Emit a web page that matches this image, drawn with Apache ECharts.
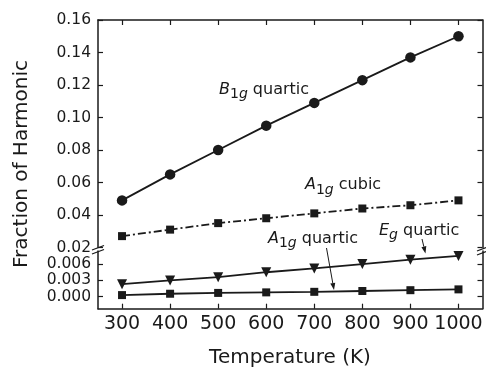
<!DOCTYPE html>
<html><head><meta charset="utf-8">
<script src="https://cdn.jsdelivr.net/npm/echarts@6/dist/echarts.min.js"></script>
<style>html,body{margin:0;padding:0;background:#fff}#c{width:486px;height:373px}</style>
</head><body><div id="c"></div>
<script>
const temperatures = [300, 400, 500, 600, 700, 800, 900, 1000];
const b1gQuartic = [0.049, 0.065, 0.080, 0.095, 0.109, 0.123, 0.137, 0.150];
const a1gCubic = [0.027, 0.031, 0.035, 0.038, 0.041, 0.044, 0.046, 0.049];
const egQuartic = [0.0023, 0.0030, 0.0036, 0.0045, 0.0052, 0.0060, 0.0068, 0.0075];
const a1gQuartic = [0.0003, 0.00055, 0.0007, 0.0008, 0.0009, 0.00105, 0.0012, 0.00135];
const lowerTicks = [0, 0.003, 0.006];

const FONT = 'DejaVu Sans';
const INK = '#1a1a1a';
const pairs = arr => temperatures.map((t, i) => [t, arr[i]]);

const chart = echarts.init(document.getElementById('c'), null, {renderer: 'canvas'});

const xBase = (grid, pos, showLabel) => ({
  type: 'value', gridIndex: grid, position: pos, min: 250, max: 1050,
  axisLine: {show: true, onZero: false, lineStyle: {color: INK, width: 1.5}},
  axisTick: {show: true, inside: true, length: 5, customValues: temperatures, lineStyle: {color: INK, width: 1.2}},
  axisLabel: {show: showLabel, customValues: temperatures, margin: 6, fontFamily: FONT, fontSize: 19, color: INK, formatter: v => String(v)},
  splitLine: {show: false}
});
const yUpper = (pos, showLabel) => ({
  type: 'value', gridIndex: 0, position: pos, min: 0.02, max: 0.16, interval: 0.02,
  axisLine: {show: true, onZero: false, lineStyle: {color: INK, width: 1.5}},
  axisTick: {show: true, inside: true, length: 5, lineStyle: {color: INK, width: 1.2}},
  axisLabel: {show: showLabel, margin: 7, fontFamily: FONT, fontSize: 15.5, color: INK, formatter: v => v.toFixed(2)},
  splitLine: {show: false}
});
const yLower = (pos, showLabel) => ({
  type: 'value', gridIndex: 1, position: pos, min: -0.0022, max: 0.0084,
  axisLine: {show: true, onZero: false, lineStyle: {color: INK, width: 1.5}},
  axisTick: {show: true, inside: true, length: 5, customValues: lowerTicks, lineStyle: {color: INK, width: 1.2}},
  axisLabel: {show: showLabel, customValues: lowerTicks, margin: 7, fontFamily: FONT, fontSize: 15.5, color: INK, formatter: v => v.toFixed(3)},
  splitLine: {show: false}
});

const rich = {
  i: {fontFamily: FONT, fontStyle: 'italic', fontSize: 16, lineHeight: 24, color: INK},
  s: {fontFamily: FONT, fontSize: 14, lineHeight: 14, verticalAlign: 'bottom', color: INK},
  si: {fontFamily: FONT, fontStyle: 'italic', fontSize: 14, lineHeight: 14, verticalAlign: 'bottom', color: INK},
  n: {fontFamily: FONT, fontSize: 16, lineHeight: 24, color: INK}
};
const label = (x, y, text) => ({
  type: 'text', left: x, top: y - 8,
  style: {text: text, rich: rich, fill: INK}
});
const arrow = (x1, y1, x2, y2) => {
  const a = Math.atan2(y2 - y1, x2 - x1), L = 7, W = 2.5;
  const bx = x2 - L * Math.cos(a), by = y2 - L * Math.sin(a);
  return [
    {type: 'line', shape: {x1: x1, y1: y1, x2: bx, y2: by}, style: {stroke: INK, lineWidth: 1}},
    {type: 'polygon', shape: {points: [[x2, y2], [bx - W * Math.sin(a), by + W * Math.cos(a)], [bx + W * Math.sin(a), by - W * Math.cos(a)]]}, style: {fill: INK}}
  ];
};

chart.setOption({
  backgroundColor: '#fff',
  animation: false,
  grid: [
    {left: 98, right: 3.5, top: 20, height: 227.5},
    {left: 98, right: 3.5, top: 251, height: 57.7}
  ],
  xAxis: [xBase(0, 'top', false), xBase(1, 'bottom', true)],
  yAxis: [yUpper('left', true), yUpper('right', false), yLower('left', true), yLower('right', false)],
  series: [
    {name: 'B1g quartic', type: 'line', xAxisIndex: 0, yAxisIndex: 0, data: pairs(b1gQuartic),
     symbol: 'circle', symbolSize: 10.5, itemStyle: {color: INK}, lineStyle: {color: INK, width: 1.8}},
    {name: 'A1g cubic', type: 'line', xAxisIndex: 0, yAxisIndex: 0, data: pairs(a1gCubic),
     symbol: 'rect', symbolSize: 8, itemStyle: {color: INK}, lineStyle: {color: INK, width: 1.8, type: [8, 3, 2, 3]}},
    {name: 'Eg quartic', type: 'line', xAxisIndex: 1, yAxisIndex: 2, data: pairs(egQuartic),
     symbol: 'triangle', symbolRotate: 180, symbolSize: 10, itemStyle: {color: INK}, lineStyle: {color: INK, width: 1.8}},
    {name: 'A1g quartic', type: 'line', xAxisIndex: 1, yAxisIndex: 2, data: pairs(a1gQuartic),
     symbol: 'rect', symbolSize: 8, itemStyle: {color: INK}, lineStyle: {color: INK, width: 1.8}}
  ],
  graphic: [
    {type: 'text', x: 22, y: 164, rotation: Math.PI / 2,
     style: {text: 'Fraction of Harmonic', fontFamily: FONT, fontSize: 20, fill: INK, align: 'center', verticalAlign: 'middle'}},
    {type: 'text', x: 290, y: 358,
     style: {text: 'Temperature (K)', fontFamily: FONT, fontSize: 20, fill: INK, align: 'center', verticalAlign: 'middle'}},
    // axis break marks
    {type: 'line', shape: {x1: 92, y1: 250, x2: 104, y2: 245.5}, style: {stroke: INK, lineWidth: 1.3}},
    {type: 'line', shape: {x1: 92, y1: 254, x2: 104, y2: 249.5}, style: {stroke: INK, lineWidth: 1.3}},
    {type: 'line', shape: {x1: 477, y1: 251, x2: 486, y2: 247.5}, style: {stroke: INK, lineWidth: 1.3}},
    {type: 'line', shape: {x1: 477, y1: 255, x2: 486, y2: 251.5}, style: {stroke: INK, lineWidth: 1.3}},
    // annotations
    label(219, 89.5, '{i|B}{s|1}{si|g}{n| quartic}'),
    label(305, 185, '{i|A}{s|1}{si|g}{n| cubic}'),
    label(268, 238.5, '{i|A}{s|1}{si|g}{n| quartic}'),
    label(379, 230.5, '{i|E}{si|g}{n| quartic}'),
    ...arrow(326.5, 248, 334, 290),
    ...arrow(422, 239, 425.5, 253.5)
  ]
});
</script></body></html>
